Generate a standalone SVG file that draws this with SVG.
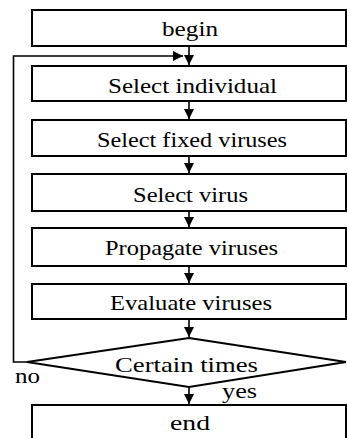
<svg xmlns="http://www.w3.org/2000/svg" width="347" height="438" viewBox="0 0 347 438">
<style>
.box{fill:#fff;stroke:#000;stroke-width:2}
.t{font-family:"Liberation Serif","Times New Roman",serif;font-size:21px;fill:#000;text-anchor:start}
.c{fill:none;stroke:#000;stroke-width:1.6}
</style>
<defs>
<marker id="ah" viewBox="0 0 10 10" refX="10" refY="5" markerWidth="10" markerHeight="10" markerUnits="userSpaceOnUse" orient="auto">
<path d="M0,0 L10,5 L0,10 z" fill="#000"/>
</marker>
</defs>
<rect width="347" height="438" fill="#fff"/>
<g id="connectors">
<line class="c" x1="189" y1="46" x2="189" y2="65" marker-end="url(#ah)"/>
<line class="c" x1="189" y1="101" x2="189" y2="119" marker-end="url(#ah)"/>
<line class="c" x1="189" y1="156" x2="189" y2="173" marker-end="url(#ah)"/>
<line class="c" x1="189" y1="211" x2="189" y2="227" marker-end="url(#ah)"/>
<line class="c" x1="189" y1="266" x2="189" y2="283" marker-end="url(#ah)"/>
<line class="c" x1="189" y1="319" x2="189" y2="337" marker-end="url(#ah)"/>
<line class="c" x1="189" y1="387" x2="189" y2="404" marker-end="url(#ah)"/>
<polyline class="c" points="27,362 13.5,362 13.5,56 183,56" marker-end="url(#ah)"/>
<text class="t" x="15" y="383" textLength="25" lengthAdjust="spacingAndGlyphs">no</text>
<text class="t" x="222" y="398" textLength="35" lengthAdjust="spacingAndGlyphs">yes</text>
</g>
<g id="begin">
<rect class="box" x="32" y="10" width="314" height="36"/>
<text class="t" x="162" y="36" textLength="56" lengthAdjust="spacingAndGlyphs">begin</text>
</g>
<g id="select-individual">
<rect class="box" x="32" y="66" width="314" height="35"/>
<text class="t" x="108" y="93" textLength="169" lengthAdjust="spacingAndGlyphs">Select individual</text>
</g>
<g id="select-fixed-viruses">
<rect class="box" x="32" y="120" width="314" height="36"/>
<text class="t" x="97" y="147" textLength="190" lengthAdjust="spacingAndGlyphs">Select fixed viruses</text>
</g>
<g id="select-virus">
<rect class="box" x="32" y="174" width="314" height="37"/>
<text class="t" x="133" y="202" textLength="115" lengthAdjust="spacingAndGlyphs">Select virus</text>
</g>
<g id="propagate-viruses">
<rect class="box" x="32" y="228" width="314" height="38"/>
<text class="t" x="105" y="255" textLength="173" lengthAdjust="spacingAndGlyphs">Propagate viruses</text>
</g>
<g id="evaluate-viruses">
<rect class="box" x="32" y="284" width="314" height="35"/>
<text class="t" x="110" y="310" textLength="162" lengthAdjust="spacingAndGlyphs">Evaluate viruses</text>
</g>
<g id="certain-times">
<polygon class="box" points="189,338 346,362 189,387 27,362"/>
<text class="t" x="115" y="372" textLength="143" lengthAdjust="spacingAndGlyphs">Certain times</text>
</g>
<g id="end">
<rect class="box" x="32" y="405" width="314" height="40"/>
<text class="t" x="170" y="430" textLength="40" lengthAdjust="spacingAndGlyphs">end</text>
</g>
</svg>
